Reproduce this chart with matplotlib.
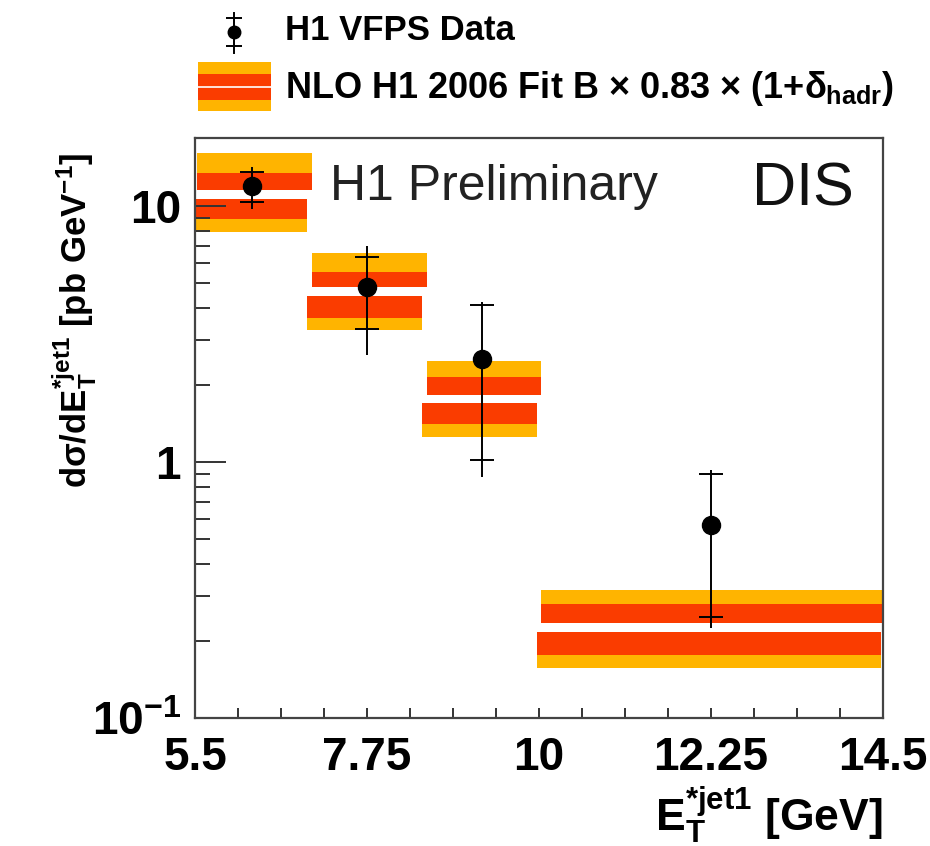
import matplotlib
matplotlib.use('Agg')
import matplotlib.pyplot as plt
from matplotlib.patches import Rectangle
from matplotlib.ticker import FixedLocator, NullFormatter, LogLocator
import numpy as np

plt.rcParams['font.family'] = ['Liberation Sans', 'DejaVu Sans']
plt.rcParams['mathtext.fontset'] = 'custom'
plt.rcParams['mathtext.rm'] = 'Liberation Sans:bold'
plt.rcParams['mathtext.it'] = 'Liberation Sans:bold'
plt.rcParams['mathtext.bf'] = 'Liberation Sans:bold'

# data points (H1 VFPS)
x_data = [6.25, 7.75, 9.25, 12.25]
y_data = [11.97, 4.83, 2.52, 0.567]
stat_up = [13.6, 6.32, 4.10, 0.897]
stat_dn = [10.4, 3.31, 1.02, 0.248]
tot_up = [14.2, 6.98, 4.22, 0.93]
tot_dn = [9.8, 2.62, 0.873, 0.225]

# NLO prediction bands per bin
bin_lo = [5.5, 7.0, 8.5, 10.0]
bin_hi = [7.0, 8.5, 10.0, 14.5]
orange_hi = [16.1, 6.55, 2.48, 0.316]
red_hi = [13.5, 5.52, 2.15, 0.279]
gap_hi = [11.6, 4.83, 1.83, 0.235]
gap_lo = [10.7, 4.45, 1.70, 0.217]
red_lo = [8.9, 3.65, 1.41, 0.176]
orange_lo = [7.91, 3.28, 1.25, 0.157]

ORANGE = '#ffb400'
RED = '#fa3c00'

fig = plt.figure(figsize=(9.3, 8.46), dpi=100)
ax = fig.add_axes([195/930, 1-718/846, 688/930, 580/846])
ax.set_yscale('log')

du, dl = 0.03, -0.03
for i in range(len(bin_lo)):
    xu = [bin_lo[i] + du, bin_hi[i] + du]
    xd = [bin_lo[i] + dl, bin_hi[i] + dl]
    ax.fill_between(xu, gap_hi[i], orange_hi[i], color=ORANGE, lw=0)
    ax.fill_between(xu, gap_hi[i], red_hi[i], color=RED, lw=0)
    ax.fill_between(xd, orange_lo[i], gap_lo[i], color=ORANGE, lw=0)
    ax.fill_between(xd, red_lo[i], gap_lo[i], color=RED, lw=0)

y = np.array(y_data)
ax.errorbar(x_data, y, yerr=[y - np.array(tot_dn), np.array(tot_up) - y],
            fmt='o', color='black', ms=13, elinewidth=1.4, capsize=0, zorder=5)
ax.plot(x_data, stat_up, '_', color='black', ms=17, mew=1.4, zorder=5)
ax.plot(x_data, stat_dn, '_', color='black', ms=17, mew=1.4, zorder=5)

ax.set_xlim(5.5, 14.5)
ax.set_ylim(0.1, 18.5)
ax.set_xticks([5.5, 7.75, 10, 12.25, 14.5])
ax.set_xticklabels(['5.5', '7.75', '10', '12.25', '14.5'])
ax.xaxis.set_minor_locator(FixedLocator(np.arange(5.5, 14.51, 0.5625)))
ax.set_yticks([0.1, 1, 10])
ax.set_yticklabels([r'$10^{-1}$', '1', '10'])
ax.yaxis.set_minor_locator(LogLocator(base=10, subs=np.arange(2, 10)))
ax.yaxis.set_minor_formatter(NullFormatter())

ax.tick_params(axis='both', which='both', direction='in', top=False, right=False,
               labelsize=33, width=1.4, color='#333333')
ax.tick_params(axis='y', which='major', length=22, pad=10)
ax.tick_params(axis='y', which='minor', length=11)
ax.tick_params(axis='x', which='major', length=7, pad=13)
ax.tick_params(axis='x', which='minor', length=7)
for lab in ax.get_xticklabels() + ax.get_yticklabels():
    lab.set_fontweight('bold')
for s in ax.spines.values():
    s.set_linewidth(1.6)
    s.set_color('#444444')

ax.set_ylabel(r'd$\sigma$/d$\mathrm{E}^{*jet1}_{T}$ [pb GeV$^{-1}$]',
              fontsize=25, fontweight='bold')
ax.yaxis.set_label_coords(-0.14, 0.685)
ax.set_xlabel(r'$\mathrm{E}^{*jet1}_{T}$ [GeV]', fontsize=32, fontweight='bold', ha='right')
ax.xaxis.set_label_coords(1.0, -0.115)

ax.text(0.196, 0.893, 'H1 Preliminary', transform=ax.transAxes, fontsize=36,
        color='#222222', va='baseline')
ax.text(0.81, 0.884, 'DIS', transform=ax.transAxes, fontsize=44,
        color='#111111', va='baseline')

# legend drawn in figure pixel space
lax = fig.add_axes([0, 0, 1, 1], zorder=10)
lax.set_xlim(0, 930)
lax.set_ylim(846, 0)
lax.axis('off')
lax.plot([234, 234], [13, 53], color='black', lw=1.4)
lax.plot([234], [32], 'o', color='black', ms=9)
lax.plot([234, 234], [18, 46], '_', color='black', ms=12, mew=1.4)
lax.add_patch(Rectangle((198, 62), 73, 49, color=ORANGE, lw=0))
lax.add_patch(Rectangle((198, 74), 73, 26, color=RED, lw=0))
lax.plot([198, 271], [87, 87], color='white', lw=1.2)
lax.text(285, 31, 'H1 VFPS Data', fontsize=25, fontweight='bold', va='center')
lax.text(285, 88, r'NLO H1 2006 Fit B $\times$ 0.83 $\times$ (1+$\delta_{hadr}$)',
         fontsize=26, fontweight='bold', va='center')

fig.savefig('out.png', dpi=100)
